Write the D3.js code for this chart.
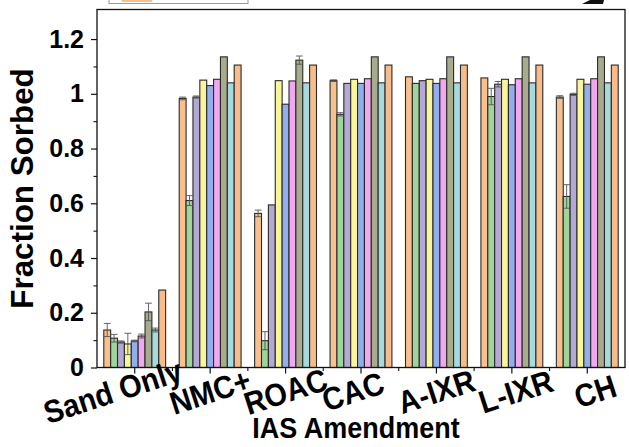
<!DOCTYPE html>
<html><head><meta charset="utf-8">
<script src="https://cdn.jsdelivr.net/npm/d3@7/dist/d3.min.js"></script>
<style>body{margin:0;background:#fff}svg{display:block}text{font-family:"Liberation Sans",Arial,sans-serif;font-weight:bold;fill:#000}</style>
</head><body>
<script>
const categories = ["Sand Only","NMC+","ROAC","CAC","A-IXR","L-IXR","CH"];
const seriesNames = ["S1","S2","S3","S4","S5","S6","S7","S8","S9"];
const seriesColors = ["#F8C08E","#9FD49A","#B4A8D6","#F9F59B","#93AEEE","#F0A8EE","#A6AC8C","#A7DADF","#F8BC8C"];
const s1 = [0.137, 0.983, 0.563, 1.048, 1.062, 1.058, 0.988];
const s2 = [0.107, 0.610, 0.098, 0.925, 1.038, 0.990, 0.625];
const s3 = [0.093, 0.988, 0.594, 1.038, 1.048, 1.035, 0.998];
const s4 = [0.086, 1.050, 1.048, 1.053, 1.053, 1.053, 1.053];
const s5 = [0.097, 1.030, 0.962, 1.038, 1.038, 1.033, 1.035];
const s6 = [0.115, 1.053, 1.047, 1.055, 1.055, 1.055, 1.055];
const s7 = [0.203, 1.135, 1.123, 1.135, 1.135, 1.135, 1.135];
const s8 = [0.137, 1.040, 1.040, 1.040, 1.040, 1.040, 1.040];
const s9 = [0.283, 1.105, 1.105, 1.105, 1.105, 1.105, 1.105];
const e1 = [0.024, 0.005, 0.012, 0.003, 0, 0, 0.005];
const e2 = [0.014, 0.018, 0.033, 0.006, 0, 0.030, 0.043];
const e3 = [0.004, 0.004, 0, 0, 0, 0.010, 0.004];
const e4 = [0.039, 0, 0, 0, 0, 0, 0];
const e5 = [0.003, 0, 0, 0, 0, 0, 0];
const e6 = [0.007, 0, 0, 0, 0, 0, 0];
const e7 = [0.032, 0, 0.015, 0, 0, 0, 0];
const e8 = [0.007, 0, 0, 0, 0, 0, 0];
const e9 = [0, 0, 0, 0, 0, 0, 0];
const yTicks = [0, 0.2, 0.4, 0.6, 0.8, 1, 1.2];
const yTickLabels = ["0","0.2","0.4","0.6","0.8","1","1.2"];
const xTitle = "IAS Amendment";
const yTitle = "Fraction Sorbed";

const values = [s1,s2,s3,s4,s5,s6,s7,s8,s9];
const errors = [e1,e2,e3,e4,e5,e6,e7,e8,e9];

const W = 629, H = 447;
const m = {left: 97, right: 4, top: 9.5, bottom: 79.5};
const svg = d3.select("body").append("svg").attr("width", W).attr("height", H);

const x0 = d3.scaleBand().domain(categories).range([m.left, W - m.right]).padding(0);
const groupW = x0.bandwidth() * 0.82;
const x1 = d3.scaleBand().domain(seriesNames)
  .range([(x0.bandwidth() - groupW) / 2, (x0.bandwidth() + groupW) / 2]).padding(0);
const y = d3.scaleLinear().domain([0, 1.308]).range([H - m.bottom, m.top]);

// legend box remnant (cropped at top)
svg.append("rect").attr("x", 109).attr("y", -20).attr("width", 139).attr("height", 23.5)
  .attr("fill", "#fff").attr("stroke", "#999").attr("stroke-width", 1);
svg.append("rect").attr("x", 122).attr("y", -10).attr("width", 30).attr("height", 11.5)
  .attr("fill", "#F8C08E").attr("stroke", "#bbb").attr("stroke-width", 0.6);
svg.append("path").attr("d", "M582,4 L603,4 L604,0 L590,0 Z").attr("fill", "#111");

// bars
const data = [];
categories.forEach((c, ci) => seriesNames.forEach((s, si) => {
  data.push({c, s, si, v: values[si][ci], e: errors[si][ci]});
}));
const g = svg.append("g");
g.selectAll("rect.bar").data(data).join("rect").attr("class", "bar")
  .attr("x", d => x0(d.c) + x1(d.s))
  .attr("y", d => y(d.v))
  .attr("width", x1.bandwidth())
  .attr("height", d => y(0) - y(d.v))
  .attr("fill", d => seriesColors[d.si])
  .attr("stroke", "#2a2a2a").attr("stroke-width", 1.1);

// error bars
const eg = svg.append("g").attr("stroke", "#555").attr("stroke-width", 0.9).attr("fill", "none");
data.filter(d => d.e > 0).forEach(d => {
  const cx = x0(d.c) + x1(d.s) + x1.bandwidth() / 2;
  const hw = x1.bandwidth() / 2;
  const yt = y(d.v + d.e), yb = y(d.v - d.e);
  eg.append("line").attr("x1", cx).attr("x2", cx).attr("y1", yt).attr("y2", yb);
  eg.append("line").attr("x1", cx - hw).attr("x2", cx + hw).attr("y1", yt).attr("y2", yt);
  eg.append("line").attr("x1", cx - hw).attr("x2", cx + hw).attr("y1", yb).attr("y2", yb);
});

// frame
svg.append("rect").attr("x", m.left).attr("y", m.top)
  .attr("width", W - m.right - m.left).attr("height", H - m.bottom - m.top)
  .attr("fill", "none").attr("stroke", "#111").attr("stroke-width", 1.3);

// y axis
const yAxis = d3.axisLeft(y).tickValues(yTicks).tickFormat((d, i) => yTickLabels[i]).tickSize(6).tickPadding(7);
const ya = svg.append("g").attr("transform", `translate(${m.left},0)`).call(yAxis);
ya.select(".domain").remove();
ya.selectAll("line").attr("stroke", "#111").attr("stroke-width", 1.2);
ya.selectAll("text").style("font-size", "25px").style("font-weight", "bold").attr("fill", "#000");
const yMinor = d3.axisLeft(y).tickValues([0.1,0.3,0.5,0.7,0.9,1.1]).tickFormat("").tickSize(3.5);
const ym = svg.append("g").attr("transform", `translate(${m.left},0)`).call(yMinor);
ym.select(".domain").remove();
ym.selectAll("line").attr("stroke", "#111").attr("stroke-width", 1.1);

// x axis
const xAxis = d3.axisBottom(x0).tickSize(6).tickFormat("");
const xa = svg.append("g").attr("transform", `translate(0,${H - m.bottom})`).call(xAxis);
xa.select(".domain").remove();
xa.selectAll("line").attr("stroke", "#111").attr("stroke-width", 1.2);
const minorX = categories.slice(1).map(c => x0(c));
svg.append("g").selectAll("line").data(minorX).join("line")
  .attr("x1", d => d).attr("x2", d => d)
  .attr("y1", H - m.bottom).attr("y2", H - m.bottom + 3.5)
  .attr("stroke", "#111").attr("stroke-width", 1.1);

// x tick labels (rotated)
svg.append("g").selectAll("text").data(categories).join("text")
  .attr("transform", (d, i) => {
    const cx = x0(d) + x0.bandwidth() / 2 + (i === 0 ? -22 : i === 3 ? -8 : i === 5 ? 4 : i === 6 ? 8 : 0);
    return `translate(${cx},${H - m.bottom + 24}) rotate(-18) scale(1,1.1)`;
  })
  .attr("text-anchor", "middle").attr("dy", "0.35em")
  .style("font-size", "29px").text(d => d);

// titles
svg.append("text").attr("transform", `translate(${(m.left + W - m.right) / 2 - 5},438) scale(1,1.12)`)
  .attr("text-anchor", "middle").style("font-size", "27px").text(xTitle);
svg.append("text").attr("transform", `translate(33,${(m.top + H - m.bottom) / 2}) rotate(-90) scale(1.12,1.1)`)
  .attr("text-anchor", "middle").style("font-size", "28px").text(yTitle);
</script>
</body></html>
